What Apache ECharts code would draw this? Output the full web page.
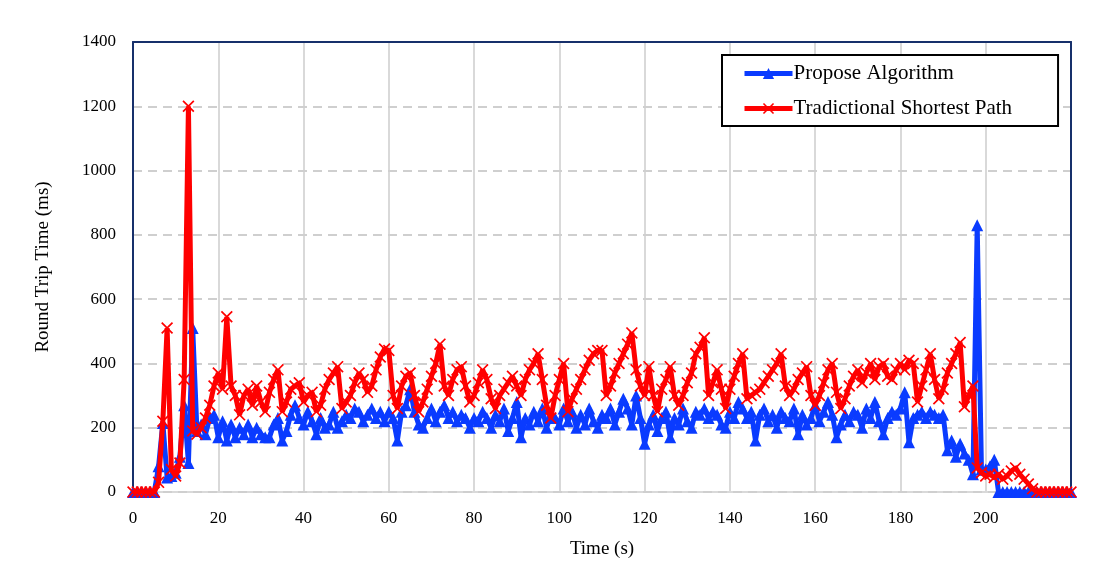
<!DOCTYPE html>
<html>
<head>
<meta charset="utf-8">
<title>Round Trip Time</title>
<script src="https://cdn.jsdelivr.net/npm/echarts@6/dist/echarts.min.js"></script>
<style>
  html, body { margin: 0; padding: 0; background: #fff; }
  #chart { width: 1106px; height: 565px; }
</style>
</head>
<body>
<div id="chart"></div>
<script>
// Time axis: one sample per second, 0 .. 220 s
const timeSeconds = Array.from({ length: 221 }, (_, i) => i);

const seriesNames = ['Propose Algorithm', 'Tradictional Shortest Path'];

// Round trip time (ms) of the proposed algorithm
const proposeRtt = [
  0, 0, 0, 0, 0, 0, 80, 215, 45, 50,
  60, 110, 270, 90, 510, 190, 210, 180, 230, 240,
  170, 220, 160, 210, 170, 200, 180, 210, 170, 200,
  180, 170, 170, 210, 230, 160, 190, 240, 270, 230,
  210, 250, 220, 180, 230, 200, 210, 250, 200, 220,
  240, 230, 260, 250, 220, 240, 260, 230, 250, 220,
  250, 230, 160, 250, 270, 320, 250, 210, 200, 230,
  260, 220, 250, 270, 230, 250, 220, 240, 230, 200,
  230, 220, 250, 230, 200, 240, 220, 260, 190, 230,
  280, 170, 230, 210, 250, 220, 260, 200, 240, 230,
  210, 260, 220, 250, 200, 240, 210, 260, 220, 200,
  240, 230, 260, 210, 250, 290, 260, 210, 300, 230,
  150, 210, 240, 190, 230, 250, 170, 230, 210, 260,
  220, 200, 250, 240, 260, 230, 250, 240, 210, 200,
  250, 230, 280, 260, 230, 250, 160, 240, 260, 220,
  240, 200, 250, 230, 220, 260, 180, 240, 210, 230,
  270, 220, 250, 280, 240, 170, 210, 240, 220, 250,
  240, 200, 260, 230, 280, 220, 180, 230, 250, 240,
  260, 310, 155, 230, 240, 250, 230, 250, 240, 230,
  240, 130, 160, 110, 150, 120, 100, 55, 830, 70,
  70, 80, 100, 0, 0, 0, 0, 0, 0, 0,
  0, 0, 0, 0, 0, 0, 0, 0, 0, 0,
  0
];

// Round trip time (ms) of the traditional shortest path
const shortestRtt = [
  0, 0, 0, 0, 0, 0, 30, 220, 510, 70,
  50, 90, 350, 1200, 190, 180, 200, 230, 270, 330,
  370, 320, 545, 330, 300, 240, 300, 320, 270, 330,
  280, 250, 310, 350, 380, 250, 280, 320, 330, 340,
  280, 300, 310, 250, 270, 320, 350, 370, 390, 260,
  280, 300, 340, 370, 350, 310, 330, 380, 420, 445,
  440, 300, 260, 330, 360, 370, 300, 250, 280, 320,
  360, 400, 460, 330, 300, 350, 380, 390, 330, 280,
  300, 340, 380, 350, 290, 260, 300, 320, 340, 360,
  330, 300, 350, 380, 400, 430, 350, 270, 230, 300,
  350, 400, 250, 290, 320, 350, 380, 410, 430, 440,
  440, 300, 330, 370, 400, 430, 460, 495, 380, 330,
  300, 390, 300, 250, 320, 350, 390, 300, 270, 300,
  340, 370, 430, 450, 480, 300, 340, 380, 320, 260,
  320, 360, 400, 430, 290, 300, 310, 320, 340, 360,
  380, 400, 430, 330, 300, 320, 350, 370, 390, 300,
  270, 300, 340, 380, 400, 310, 260, 290, 330, 360,
  380, 340, 370, 400, 350, 390, 400, 360, 350, 380,
  400, 380, 410, 400, 280, 330, 380, 430, 350, 290,
  320, 370, 400, 430, 465, 265, 300, 330, 75, 60,
  50, 55, 45, 55, 40, 50, 65, 75, 55, 40,
  25, 10, 0, 0, 0, 0, 0, 0, 0, 0,
  0
];

const xTicks = [0, 20, 40, 60, 80, 100, 120, 140, 160, 180, 200];
const yTicks = [0, 200, 400, 600, 800, 1000, 1200, 1400];

const crossSymbol = 'path://M0,1 L1,0 L5,4 L9,0 L10,1 L6,5 L10,9 L9,10 L5,6 L1,10 L0,9 L4,5 Z';
const serif = '"Liberation Serif", "Times New Roman", serif';
const navy = '#17306b';
const labelStyle = { fontFamily: serif, fontSize: 17, color: '#000' };

const chart = echarts.init(document.getElementById('chart'), null, { renderer: 'canvas' });

chart.setOption({
  backgroundColor: '#ffffff',
  animation: false,
  grid: { left: 133, right: 35, top: 42, bottom: 73 },
  legend: {
    data: seriesNames,
    orient: 'vertical',
    left: 722, top: 55,
    z: 20,
    padding: [8, 46, 7, 20],
    itemGap: 14,
    itemWidth: 48, itemHeight: 14,
    lineStyle: { width: 5 },
    backgroundColor: '#ffffff',
    borderColor: '#000000', borderWidth: 2,
    textStyle: { fontFamily: serif, fontSize: 21, color: '#000', padding: [0, 0, 0, -4] }
  },
  xAxis: [
    {
      type: 'value',
      min: 0, max: 220, interval: 20,
      name: 'Time (s)',
      nameLocation: 'middle', nameGap: 48,
      nameTextStyle: { fontFamily: serif, fontSize: 19, color: '#000' },
      axisLine: { show: true, onZero: false, lineStyle: { color: '#d9d9d9', width: 2 } },
      axisTick: { show: false },
      axisLabel: Object.assign({ margin: 18, formatter: v => (xTicks.includes(v) ? String(v) : '') }, labelStyle),
      splitLine: { show: true, lineStyle: { color: '#d9d9d9', width: 2, type: 'solid' } }
    },
    {
      // top frame edge
      type: 'value', position: 'top',
      min: 0, max: 220, interval: 20, z: 5,
      axisLine: { show: true, onZero: false, lineStyle: { color: navy, width: 2 } },
      axisTick: { show: false }, axisLabel: { show: false }, splitLine: { show: false }
    }
  ],
  yAxis: [
    {
      type: 'value',
      min: 0, max: 1400, interval: 200, z: 5,
      name: 'Round Trip Time (ms)',
      nameLocation: 'middle', nameGap: 80, nameRotate: 90,
      nameTextStyle: { fontFamily: serif, fontSize: 19, color: '#000' },
      axisLine: { show: true, onZero: false, lineStyle: { color: navy, width: 2 } },
      axisTick: { show: false },
      axisLabel: Object.assign({ margin: 17, formatter: v => (yTicks.includes(v) ? String(v) : '') }, labelStyle),
      splitLine: { show: true, lineStyle: { color: '#cfcfcf', width: 2, type: [9, 6] } }
    },
    {
      // right frame edge
      type: 'value', position: 'right',
      min: 0, max: 1400, interval: 200, z: 5,
      axisLine: { show: true, onZero: false, lineStyle: { color: navy, width: 2 } },
      axisTick: { show: false }, axisLabel: { show: false }, splitLine: { show: false }
    }
  ],
  series: [
    {
      name: seriesNames[0],
      type: 'line',
      data: timeSeconds.map((t, i) => [t, proposeRtt[i]]),
      symbol: 'triangle', symbolSize: 12,
      lineStyle: { color: '#0a3bff', width: 5 },
      itemStyle: { color: '#0a3bff' },
      z: 6
    },
    {
      name: seriesNames[1],
      type: 'line',
      data: timeSeconds.map((t, i) => [t, shortestRtt[i]]),
      symbol: crossSymbol, symbolSize: 12,
      lineStyle: { color: '#ff0000', width: 5 },
      itemStyle: { color: '#ff0000' },
      z: 7
    }
  ]
});
</script>
</body>
</html>
